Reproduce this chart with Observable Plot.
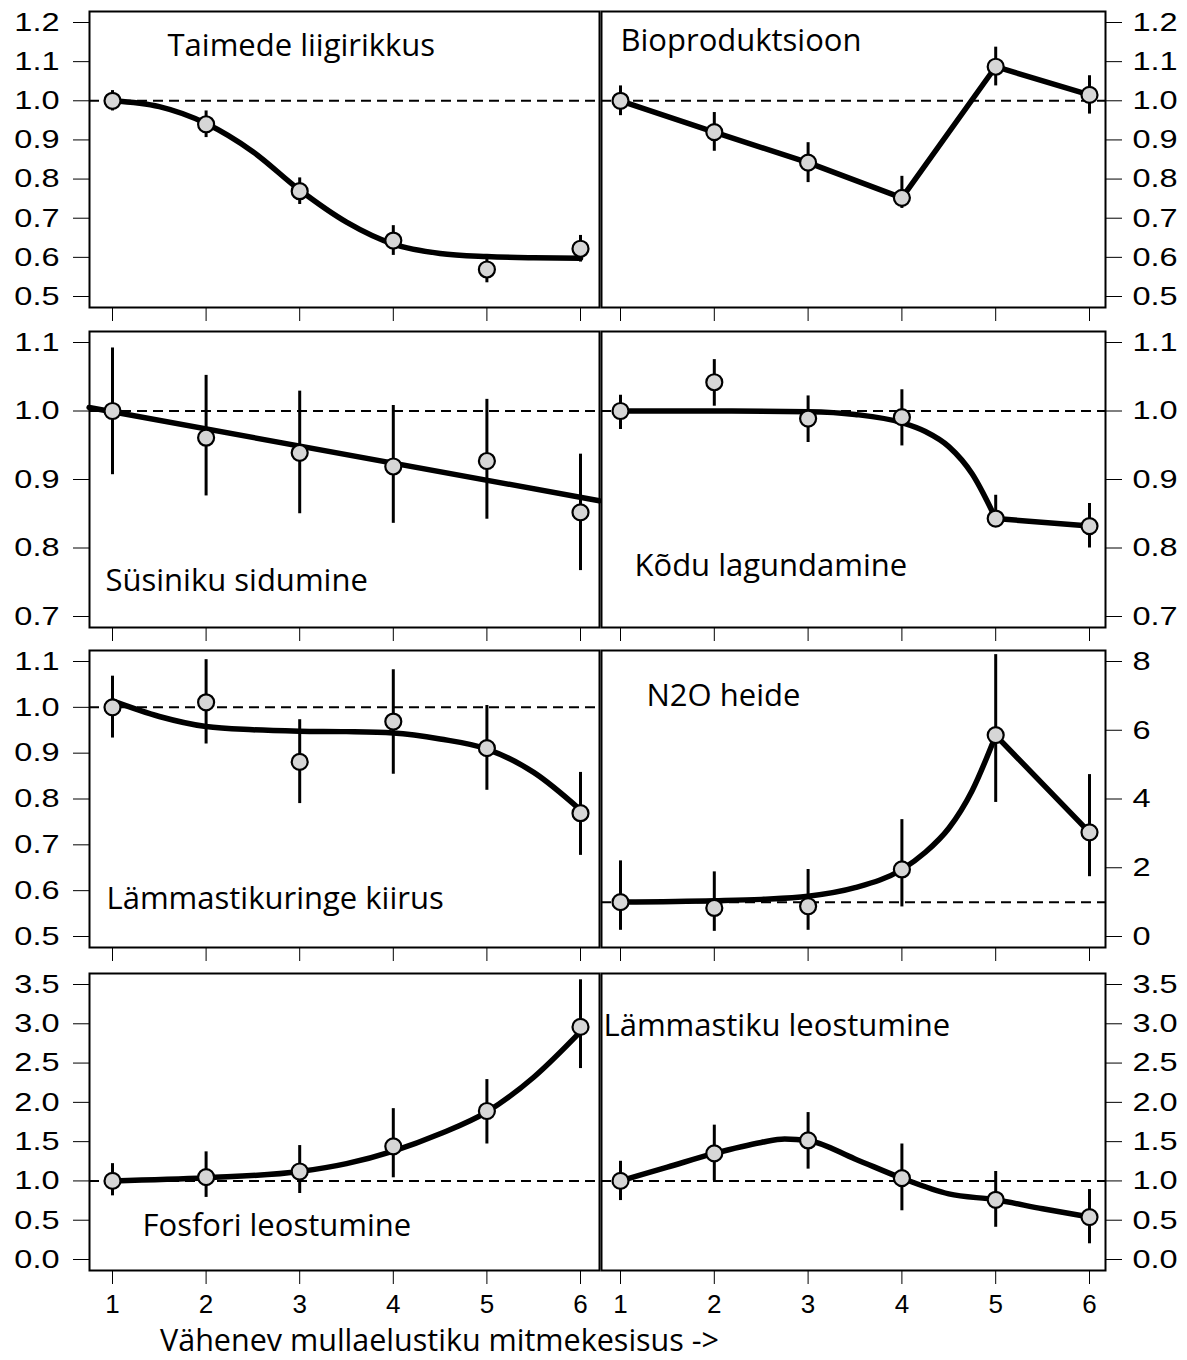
<!DOCTYPE html>
<html><head><meta charset="utf-8">
<script src="https://cdn.jsdelivr.net/npm/d3@7"></script>
<script src="https://cdn.jsdelivr.net/npm/@observablehq/plot@0.6"></script>
<style>
body{margin:0;background:#fff;}
#chart{position:relative;width:1187px;height:1360px;background:#fff;overflow:hidden;}
.panel{position:absolute;}
#xtitle{position:absolute;left:160px;top:1326px;height:26px;font-family:"Open Sans";font-size:30.5px;line-height:26px;white-space:nowrap;color:#000;}
</style></head>
<body><div id="chart"><div id="xtitle">Vähenev mullaelustiku mitmekesisus -&gt;</div></div>
<script>
// ---- shared ----
const xLevels = [1, 2, 3, 4, 5, 6];
const xTickValues = [1, 2, 3, 4, 5, 6];
const titles = ["Taimede liigirikkus", "Bioproduktsioon", "Süsiniku sidumine", "Kõdu lagundamine",
  "Lämmastikuringe kiirus", "N2O heide", "Fosfori leostumine", "Lämmastiku leostumine"];

// ---- y tick values per panel ----
const ticksRow1 = [0.5, 0.6, 0.7, 0.8, 0.9, 1.0, 1.1, 1.2];
const ticksRow2 = [0.7, 0.8, 0.9, 1.0, 1.1];
const ticksRow3Left = [0.5, 0.6, 0.7, 0.8, 0.9, 1.0, 1.1];
const ticksRow3Right = [0, 2, 4, 6, 8];
const ticksRow4 = [0.0, 0.5, 1.0, 1.5, 2.0, 2.5, 3.0, 3.5];

// ---- Taimede liigirikkus ----
const plantMean = [1.00, 0.940, 0.769, 0.643, 0.569, 0.622];
const plantLo   = [0.974, 0.906, 0.735, 0.605, 0.535, 0.588];
const plantHi   = [1.026, 0.974, 0.803, 0.681, 0.603, 0.656];
const plantFitX = [1, 1.5, 2, 2.5, 3, 3.5, 4, 4.5, 5, 5.5, 6];
const plantFitY = [1.0, 0.985, 0.942, 0.870, 0.772, 0.690, 0.634, 0.610, 0.602, 0.599, 0.598];

// ---- Bioproduktsioon ----
const bioMean = [1.00, 0.920, 0.842, 0.752, 1.087, 1.015];
const bioLo   = [0.962, 0.871, 0.791, 0.725, 1.038, 0.966];
const bioHi   = [1.038, 0.970, 0.893, 0.807, 1.137, 1.064];

// ---- Süsiniku sidumine ----
const carbMean = [1.00, 0.961, 0.939, 0.919, 0.927, 0.852];
const carbLo   = [0.907, 0.876, 0.850, 0.836, 0.842, 0.767];
const carbHi   = [1.092, 1.052, 1.029, 1.008, 1.017, 0.937];
const carbFitX = [0.75, 6.2];
const carbFitY = [1.005, 0.869];

// ---- Kõdu lagundamine ----
const litterMean = [1.00, 1.042, 0.989, 0.991, 0.843, 0.832];
const litterLo   = [0.973, 1.007, 0.954, 0.949, 0.835, 0.800];
const litterHi   = [1.023, 1.075, 1.022, 1.031, 0.877, 0.865];
const litterFitX = [1, 2, 3, 3.5, 4, 4.25, 4.5, 4.75, 5];
const litterFitY = [1.0, 1.0, 0.999, 0.995, 0.983, 0.970, 0.948, 0.908, 0.843];
const litterTailX = [5, 6];
const litterTailY = [0.843, 0.832];

// ---- Lämmastikuringe kiirus ----
const ncycMean = [1.00, 1.011, 0.881, 0.969, 0.911, 0.769];
const ncycLo   = [0.933, 0.920, 0.790, 0.854, 0.819, 0.677];
const ncycHi   = [1.068, 1.104, 0.973, 1.082, 1.004, 0.858];
const ncycFitX = [1, 1.5, 2, 2.5, 3, 3.5, 4, 4.5, 5, 5.5, 6];
const ncycFitY = [1.014, 0.980, 0.958, 0.951, 0.948, 0.947, 0.944, 0.931, 0.909, 0.858, 0.776];

// ---- N2O heide ----
const n2oMean = [1.0, 0.83, 0.88, 1.95, 5.86, 3.03];
const n2oLo   = [0.18, 0.15, 0.18, 0.86, 3.9, 1.74];
const n2oHi   = [2.2, 1.88, 1.95, 3.40, 8.2, 4.71];
const n2oFitX = [1, 2, 2.5, 3, 3.5, 4, 4.25, 4.5, 4.75, 5];
const n2oFitY = [1.0, 1.04, 1.08, 1.17, 1.42, 1.95, 2.45, 3.15, 4.25, 5.85];
const n2oTailX = [5, 6];
const n2oTailY = [5.85, 3.03];

// ---- Fosfori leostumine ----
const phosMean = [1.00, 1.048, 1.12, 1.44, 1.89, 2.96];
const phosLo   = [0.81, 0.79, 0.84, 1.04, 1.47, 2.43];
const phosHi   = [1.22, 1.37, 1.45, 1.92, 2.29, 3.56];
const phosFitX = [1, 2, 3, 3.5, 4, 4.5, 5, 5.5, 6];
const phosFitY = [1.0, 1.04, 1.12, 1.22, 1.38, 1.60, 1.88, 2.32, 2.90];

// ---- Lämmastiku leostumine ----
const nleachMean = [1.00, 1.35, 1.515, 1.035, 0.76, 0.54];
const nleachLo   = [0.75, 1.0, 1.15, 0.62, 0.41, 0.20];
const nleachHi   = [1.25, 1.71, 1.87, 1.47, 1.12, 0.89];
const nleachFitX = [1, 1.5, 2, 2.5, 2.75, 3, 3.5, 4, 4.5, 5, 5.5, 6];
const nleachFitY = [1.0, 1.175, 1.35, 1.49, 1.535, 1.515, 1.28, 1.035, 0.835, 0.76, 0.645, 0.54];

// ---- layout ----
const rowTop = [0, 322, 642, 962];
const rowHeight = [322, 320, 320, 358];
const rowMarginTop = [11, 9, 8, 11];
const rowMarginBottom = [15, 15, 15, 50];
const f1 = d3.format(".1f");
const fInt = d3.format("d");

function zip(xs, ys) { return xs.map((x, i) => ({x, y: ys[i]})); }

const panels = [
  {title: titles[0], row: 0, side: "left", mean: plantMean, lo: plantLo, hi: plantHi,
   yDomain: [0.5, 1.2], yTicks: ticksRow1, fmt: f1, ref: 1,
   fits: [{data: zip(plantFitX, plantFitY), curve: "monotone-x"}], tdx: 78, tdy: 44},
  {title: titles[1], row: 0, side: "right", mean: bioMean, lo: bioLo, hi: bioHi,
   yDomain: [0.5, 1.2], yTicks: ticksRow1, fmt: f1, ref: 1,
   fits: [{data: zip(xLevels, bioMean), curve: "linear"}], tdx: 19, tdy: 39},
  {title: titles[2], row: 1, side: "left", mean: carbMean, lo: carbLo, hi: carbHi,
   yDomain: [0.7, 1.1], yTicks: ticksRow2, fmt: f1, ref: 1,
   fits: [{data: zip(carbFitX, carbFitY), curve: "linear"}], tdx: 16, tdy: 259},
  {title: titles[3], row: 1, side: "right", mean: litterMean, lo: litterLo, hi: litterHi,
   yDomain: [0.7, 1.1], yTicks: ticksRow2, fmt: f1, ref: 1,
   fits: [{data: zip(litterFitX, litterFitY), curve: "monotone-x"},
          {data: zip(litterTailX, litterTailY), curve: "linear"}], tdx: 33, tdy: 244},
  {title: titles[4], row: 2, side: "left", mean: ncycMean, lo: ncycLo, hi: ncycHi,
   yDomain: [0.5, 1.1], yTicks: ticksRow3Left, fmt: f1, ref: 1,
   fits: [{data: zip(ncycFitX, ncycFitY), curve: "monotone-x"}], tdx: 17, tdy: 258},
  {title: titles[5], row: 2, side: "right", mean: n2oMean, lo: n2oLo, hi: n2oHi,
   yDomain: [0, 8], yTicks: ticksRow3Right, fmt: fInt, ref: 1,
   fits: [{data: zip(n2oFitX, n2oFitY), curve: "monotone-x"},
          {data: zip(n2oTailX, n2oTailY), curve: "linear"}], tdx: 45, tdy: 55},
  {title: titles[6], row: 3, side: "left", mean: phosMean, lo: phosLo, hi: phosHi,
   yDomain: [0, 3.5], yTicks: ticksRow4, fmt: f1, ref: 1,
   fits: [{data: zip(phosFitX, phosFitY), curve: "monotone-x"}], tdx: 53, tdy: 262},
  {title: titles[7], row: 3, side: "right", mean: nleachMean, lo: nleachLo, hi: nleachHi,
   yDomain: [0, 3.5], yTicks: ticksRow4, fmt: f1, ref: 1,
   fits: [{data: zip(nleachFitX, nleachFitY), curve: "monotone-x"}], tdx: 2, tdy: 62}
];

const chart = document.getElementById("chart");

for (const p of panels) {
  const left = p.side === "left";
  const bottom = p.row === 3;
  const pts = xLevels.map((x, i) => ({x, y: p.mean[i], lo: p.lo[i], hi: p.hi[i]}));
  const width = left ? 600 : 587;
  const svg = Plot.plot({
    width,
    height: rowHeight[p.row],
    marginTop: rowMarginTop[p.row],
    marginBottom: rowMarginBottom[p.row],
    marginLeft: left ? 89 : 1,
    marginRight: left ? 1 : 82,
    style: {fontFamily: "'Liberation Sans', Arial, sans-serif", fontSize: "26px", color: "black", background: "transparent", overflow: "visible"},
    x: {domain: [1, 6], insetLeft: left ? 23 : 19, insetRight: left ? 19 : 16, ticks: xTickValues,
        tickSize: 14, tickPadding: 10, tickFormat: bottom ? d => String(d) : () => "", label: null, axis: "bottom"},
    y: {domain: p.yDomain, insetTop: 11, insetBottom: 11, ticks: p.yTicks, tickSize: 16,
        tickPadding: left ? 14 : 11, tickFormat: p.fmt, label: null, axis: left ? "left" : "right"},
    marks: [
      Plot.frame({stroke: "black", strokeWidth: 2}),
      Plot.ruleY([p.ref], {stroke: "black", strokeWidth: 2, strokeDasharray: "10,6"}),
      ...p.fits.map(f => Plot.line(f.data, {x: "x", y: "y", stroke: "black", strokeWidth: 5.5, curve: f.curve})),
      Plot.ruleX(pts, {x: "x", y1: "lo", y2: "hi", stroke: "black", strokeWidth: 3}),
      Plot.dot(pts, {x: "x", y: "y", r: 8, fill: "#d6d6d6", stroke: "black", strokeWidth: 2.2}),
      Plot.text([p.title], {text: d => d, frameAnchor: "top-left", dx: p.tdx, dy: p.tdy,
        textAnchor: "start", lineAnchor: "bottom", fontSize: 31, fontFamily: "Open Sans", fill: "black"})
    ]
  });
  const wrap = document.createElement("div");
  wrap.className = "panel";
  wrap.style.left = (left ? 0 : 600) + "px";
  wrap.style.top = rowTop[p.row] + "px";
  wrap.appendChild(svg);
  chart.appendChild(wrap);
  svg.querySelectorAll('g[aria-label^="x-axis"] text').forEach(t => { t.style.fontSize = "26px"; });
  svg.querySelectorAll('g[aria-label^="y-axis"] text').forEach(t => {
    const L = t.getComputedTextLength();
    if (L > 0) {
      t.setAttribute("textLength", (L * 1.25).toFixed(1));
      t.setAttribute("lengthAdjust", "spacingAndGlyphs");
    }
  });
}
</script></body></html>
